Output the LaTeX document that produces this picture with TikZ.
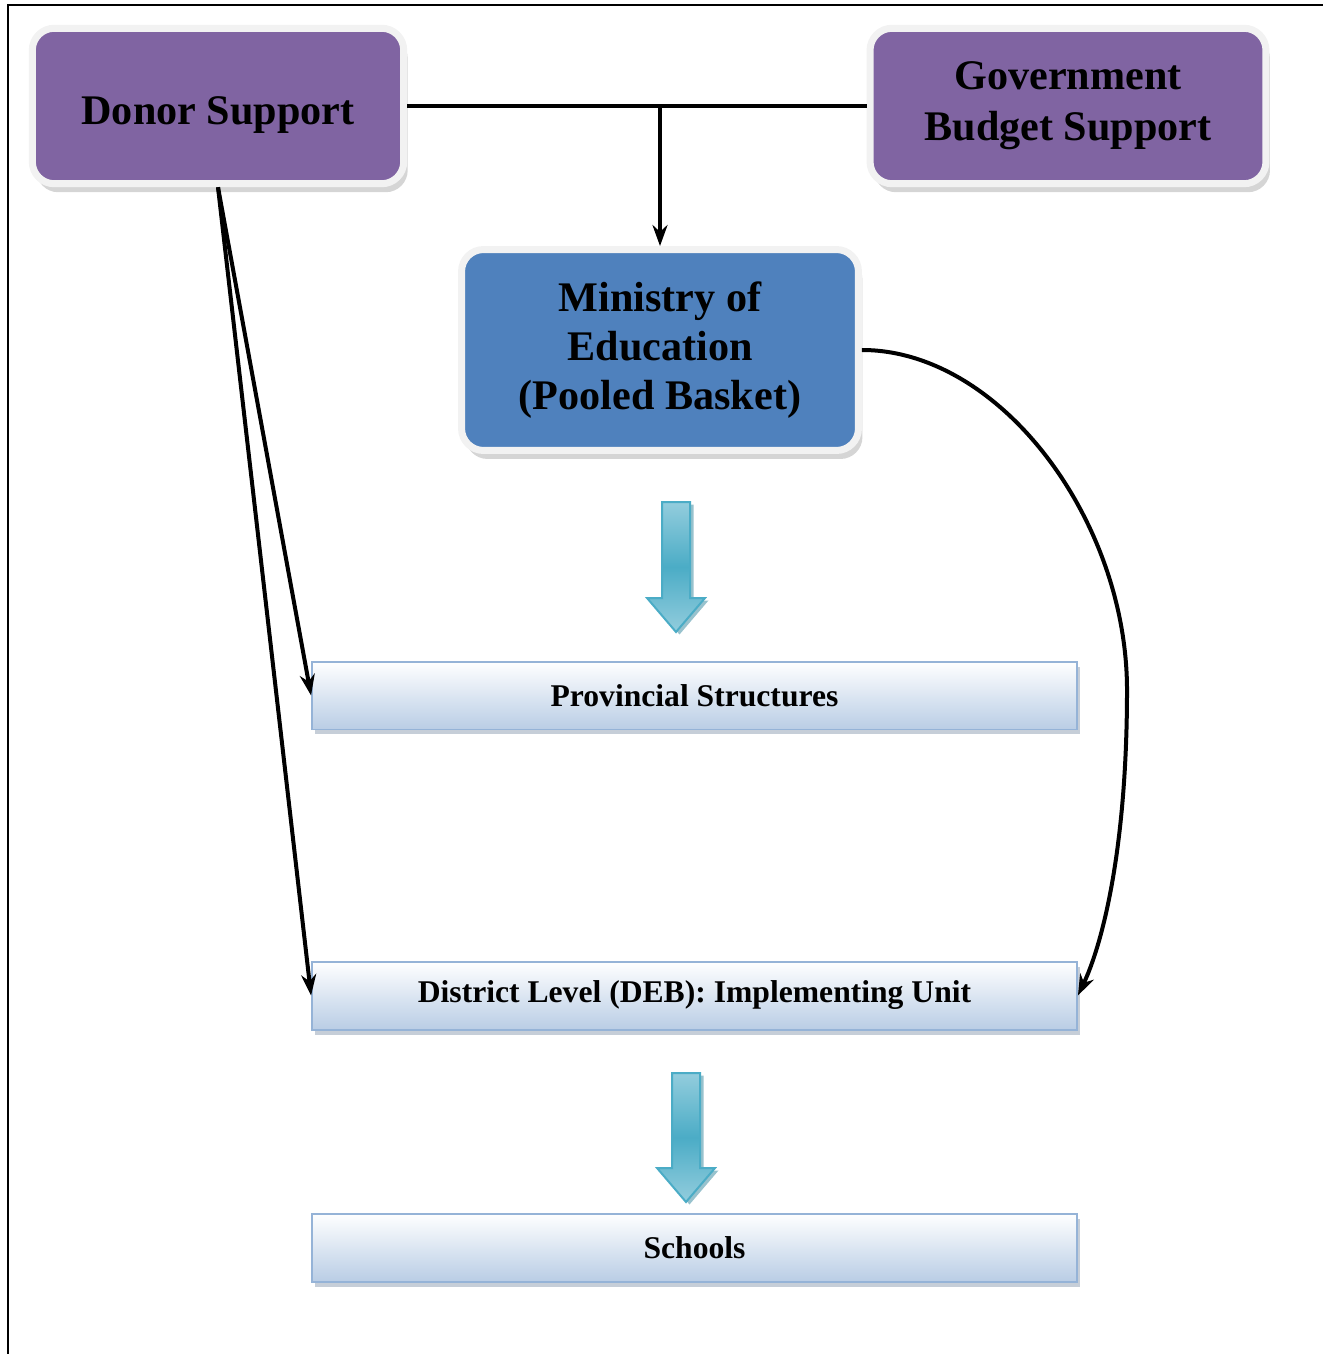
\documentclass[tikz,border=0pt]{standalone}
\usepackage{fontspec}
\setmainfont{Liberation Serif}
\usetikzlibrary{arrows.meta,shadows}
\definecolor{fundpurple}{HTML}{8064A2}
\definecolor{ringgray}{HTML}{F2F2F2}
\definecolor{moeblue}{HTML}{4F81BD}
\definecolor{levelline}{HTML}{95B3D7}
\definecolor{levelfill}{HTML}{B9CDE5}
\definecolor{levelshade}{HTML}{8E9DB2}
\definecolor{flowlight}{HTML}{93CDDD}
\definecolor{flowdark}{HTML}{4BACC6}
\definecolor{flowshade}{HTML}{31859C}
\begin{document}
\begin{tikzpicture}[x=0.02cm,y=-0.02cm,
    source/.style={rounded corners=0.44cm, fill=fundpurple, draw=ringgray, line width=0.14cm,
        drop shadow={shadow xshift=0.08cm, shadow yshift=-0.17cm, fill=gray!65},
        font=\fontsize{24}{29}\selectfont\bfseries, align=center, inner sep=0pt},
    level/.style={top color=white, bottom color=levelfill, draw=levelline, line width=0.04cm,
        drop shadow={shadow xshift=0.06cm, shadow yshift=-0.1cm, fill=levelshade},
        minimum width=15.3cm, minimum height=1.36cm, inner sep=0pt,
        font=\fontsize{18}{22}\selectfont\bfseries},
    link/.style={line width=0.08cm, -{Stealth[length=0.42cm,width=0.3cm]}},
    flow/.style={top color=flowlight, bottom color=flowlight, middle color=flowdark,
        draw=flowdark, line width=0.04cm,
        drop shadow={shadow xshift=0.07cm, shadow yshift=-0.05cm, fill=flowshade}}]
    \useasboundingbox (0,0) rectangle (1323,1354);
    \draw[line width=0.04cm] (8,1354) -- (8,5) -- (1323,5);

    % funding sources
    \node[source, minimum width=7.43cm, minimum height=3.11cm, text height=0.76cm, text depth=0pt] (donor) at (218,106) {Donor Support};
    \node[source, minimum width=7.92cm, minimum height=3.11cm] (gov) at (1068,106) {Government\\Budget Support};
    \node[source, fill=moeblue, minimum width=7.94cm, minimum height=4.02cm,
          font=\fontsize{24}{28}\selectfont\bfseries] (moe) at (660,350) {Ministry of\\Education\\(Pooled Basket)};

    % levels
    \node[level] (prov) at (694.5,695.5) {Provincial Structures};
    \node[level] (dist) at (694.5,995.5) {District Level (DEB): Implementing Unit};
    \node[level] (school) at (694.5,1247.5) {Schools};

    % block arrows
    \path[flow] (662,502) -- (690,502) -- (690,598) -- (705,598) -- (676,632) -- (647,598) -- (662,598) -- cycle;
    \path[flow] (672,1073) -- (700,1073) -- (700,1168) -- (715,1168) -- (686,1202) -- (657,1168) -- (672,1168) -- cycle;

    % connectors
    \draw[line width=0.08cm] (donor.east) -- (gov.west);
    \coordinate (join) at (moe.north |- donor.east);
    \draw[link] (join) -- (moe.north);
    \draw[link] (donor.south) -- (prov.west);
    \draw[link] (donor.south) -- (dist.west);
    \coordinate (bend) at (1127,690);
    \draw[link] (moe.east) .. controls (1000,350) and (1127,520) .. (bend)
        .. controls (1127,850) and (1102,945) .. (dist.east);
\end{tikzpicture}
\end{document}
